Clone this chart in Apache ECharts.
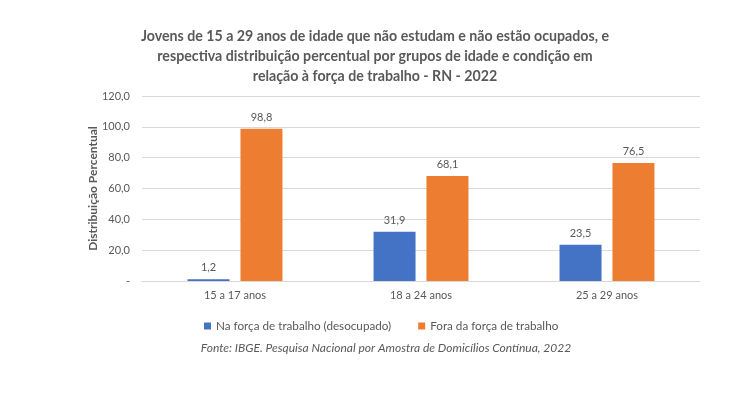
<!DOCTYPE html>
<html><head><meta charset="utf-8">
<script src="https://cdn.jsdelivr.net/npm/echarts@6/dist/echarts.min.js"></script>
<style>html,body{margin:0;padding:0;background:#fff}#c{width:750px;height:394px}</style>
</head><body><div id="c"></div>
<script>
const categories = ['15 a 17 anos', '18 a 24 anos', '25 a 29 anos'];
const seriesNames = ['Na força de trabalho (desocupado)', 'Fora da força de trabalho'];
const naForca = [1.2, 31.9, 23.5];
const foraForca = [98.8, 68.1, 76.5];
const titleText = 'Jovens de 15 a 29 anos de idade que não estudam e não estão ocupados, e\nrespectiva distribuição percentual por grupos de idade e condição em\nrelação à força de trabalho - RN - 2022';
const yAxisName = 'Distribuição Percentual';
const sourceText = 'Fonte: IBGE. Pesquisa Nacional por Amostra de Domicílios Contínua, 2022';

const fmt = v => v === 0 ? '-' : v.toFixed(1).replace('.', ',');
const font = 'Lato';
const chart = echarts.init(document.getElementById('c'));
chart.setOption({
  animation: false,
  textStyle: { fontFamily: font },
  title: [{
    text: titleText, left: 'center', top: 21,
    textStyle: { fontSize: 14.2, fontWeight: 'bold', color: '#595959', lineHeight: 20, fontFamily: font }
  }, {
    text: sourceText, left: 381, textAlign: 'center', top: 337,
    textStyle: { fontSize: 12, fontStyle: 'italic', fontWeight: 'normal', color: '#595959', fontFamily: font }
  }],
  legend: {
    top: 315, left: 199, itemWidth: 7, itemHeight: 7, itemGap: 27,
    icon: 'rect',
    textStyle: { fontSize: 11.7, color: '#595959' },
    data: seriesNames
  },
  grid: { left: 142, right: 50, top: 96, bottom: 113 },
  xAxis: {
    type: 'category', data: categories,
    axisTick: { show: false },
    axisLine: { lineStyle: { color: '#d9d9d9' } },
    axisLabel: { fontSize: 11, color: '#595959', margin: 9 }
  },
  yAxis: {
    type: 'value', min: 0, max: 120, interval: 20,
    name: yAxisName, nameLocation: 'middle', nameGap: 43, nameMoveOverlap: false,
    nameTextStyle: { fontSize: 12, fontWeight: 'bold', color: '#595959' },
    axisLine: { show: false }, axisTick: { show: false },
    axisLabel: { formatter: fmt, fontSize: 11, color: '#595959', margin: 12 },
    splitLine: { lineStyle: { color: '#d9d9d9' } }
  },
  series: [{
    name: seriesNames[0], type: 'bar', data: naForca, barWidth: 42, barGap: '26%',
    itemStyle: { color: '#4472c4' },
    label: { show: true, position: 'top', formatter: p => fmt(p.value), fontSize: 11, color: '#595959', distance: 6 }
  }, {
    name: seriesNames[1], type: 'bar', data: foraForca, barWidth: 42,
    itemStyle: { color: '#ed7d31' },
    label: { show: true, position: 'top', formatter: p => fmt(p.value), fontSize: 11, color: '#595959', distance: 6 }
  }]
});
</script></body></html>
